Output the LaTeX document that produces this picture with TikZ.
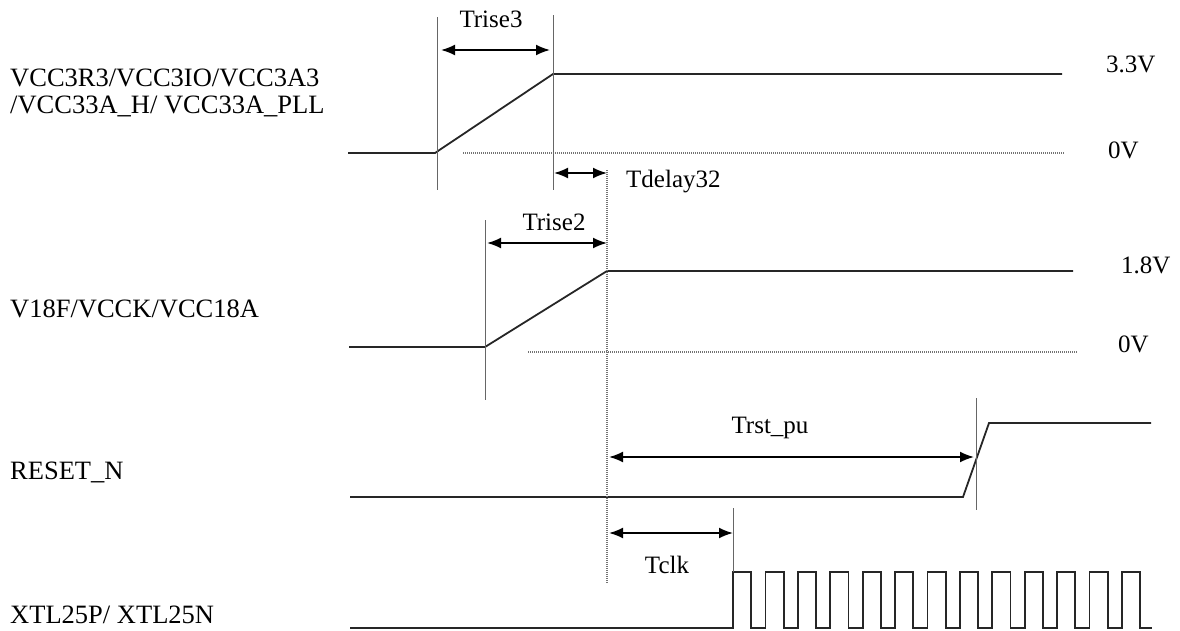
\documentclass[tikz,border=0pt]{standalone}
\usepackage{fontspec}
\setmainfont{Liberation Serif}
\usetikzlibrary{arrows.meta}
\begin{document}
\begin{tikzpicture}[x=1pt,y=-1pt,
  sig/.style={line width=1.8pt,draw=black!85,line join=miter},
  tick/.style={line width=1pt,draw=black!60},
  dotl/.style={line width=1.4pt,draw=black!55,dash pattern=on 1pt off 1pt},
  dim/.style={line width=1.8pt,draw=black,{Latex[length=14pt,width=11pt]}-{Latex[length=14pt,width=11pt]}},
  lbl/.style={font=\fontsize{26.5}{31}\selectfont,inner sep=0pt,anchor=base west},
  ann/.style={font=\fontsize{25}{30}\selectfont,inner sep=0pt,anchor=base}]
\useasboundingbox (0,0) rectangle (1180,630);
% left labels
\node[lbl] (l1a) at (10,86) {VCC3R3/VCC3IO/VCC3A3};
\node[lbl] (l1b) at (10,113) {/VCC33A\_H/ VCC33A\_PLL};
\node[lbl] (l2) at (10,317) {V18F/VCCK/VCC18A};
\node[lbl] (l3) at (10,479) {RESET\_N};
\node[lbl] (l4) at (10,623) {XTL25P/ XTL25N};
% level labels
\node[ann,anchor=base west] (v33) at (1106,72) {3.3V};
\node[ann,anchor=base west] (v0a) at (1108,158) {0V};
\node[ann,anchor=base west] (v18) at (1121,273) {1.8V};
\node[ann,anchor=base west] (v0b) at (1118,352) {0V};
% signals
\draw[sig] (348,153) -- (435,153) -- (553,74) -- (1062,74);
\draw[sig] (349,347) -- (485,347) -- (607,271) -- (1073,271);
\draw[sig] (350,497) -- (963,497) -- (989,423) -- (1151,423);
\draw[sig] (350,628) foreach \k in {0,...,12} { -- ({733+32.4*\k},628) -- ++(0,-56) -- ++(18.3,0) -- ++(0,56) } -- (1152,628);
% 0V dotted levels
\draw[dotl] (463,153) -- (1064,153);
\draw[dotl] (528,352) -- (1077,352);
% vertical markers
\draw[tick] (437,17) -- (437,190);
\draw[tick] (553,15) -- (553,190);
\draw[tick] (485,220) -- (485,400);
\draw[tick] (976,398) -- (976,510);
\draw[tick] (733,508) -- (733,572);
\draw[dotl] (607,170) -- (607,583);
% dimension coordinates
\coordinate (a1) at (441,50); \coordinate (a2) at (550,50);
\coordinate (b1) at (554,173); \coordinate (b2) at (607,173);
\coordinate (c1) at (487,243); \coordinate (c2) at (607,243);
\coordinate (d1) at (609,457); \coordinate (d2) at (974,457);
\coordinate (e1) at (609,533); \coordinate (e2) at (733,533);
\draw[dim] (a1) -- (a2);
\draw[dim] (b1) -- (b2);
\draw[dim] (c1) -- (c2);
\draw[dim] (d1) -- (d2);
\draw[dim] (e1) -- (e2);
% dimension labels
\node[ann] (t1) at (491,27) {Trise3};
\node[ann,anchor=base west] (t2) at (626,187) {Tdelay32};
\node[ann] (t3) at (554,230) {Trise2};
\node[ann] (t4) at (770,433) {Trst\_pu};
\node[ann] (t5) at (667,573) {Tclk};
\end{tikzpicture}
\end{document}
